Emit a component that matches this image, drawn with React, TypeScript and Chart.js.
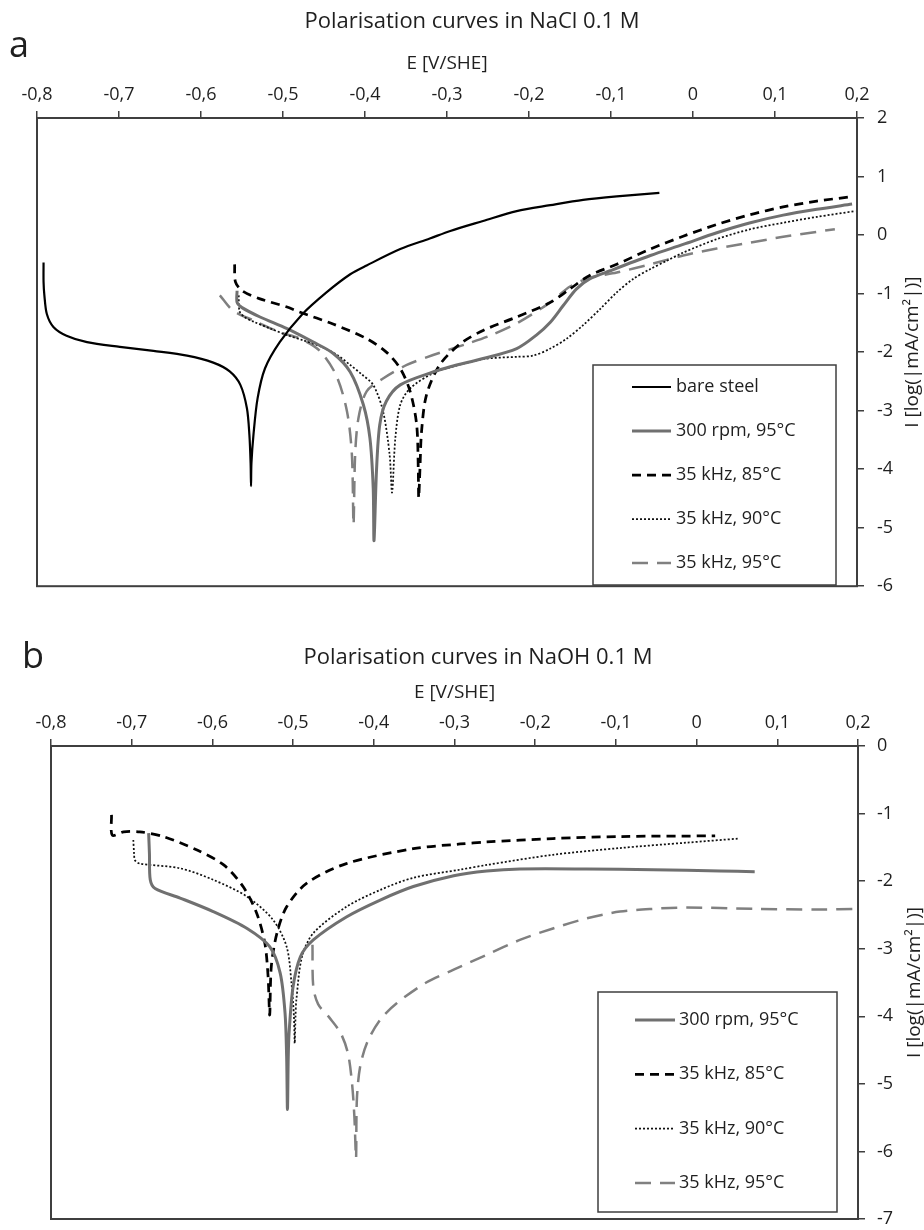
import React, { useEffect, useRef } from 'react';
import { Chart, registerables } from 'chart.js';

Chart.register(...registerables);

const FONT_FAMILY = '"Open Sans", "Liberation Sans", sans-serif';
const TEXT_COLOR = '#1f1f1f';
const AXIS_COLOR = '#3f3f3f';

// ---------------- axis ticks ----------------
const xTickValues = [-0.8, -0.7, -0.6, -0.5, -0.4, -0.3, -0.2, -0.1, 0, 0.1, 0.2];
const xTickLabels = ['-0,8', '-0,7', '-0,6', '-0,5', '-0,4', '-0,3', '-0,2', '-0,1', '0', '0,1', '0,2'];
const yTickValuesNaCl = [-6, -5, -4, -3, -2, -1, 0, 1, 2];
const yTickLabelsNaCl = ['-6', '-5', '-4', '-3', '-2', '-1', '0', '1', '2'];
const yTickValuesNaOH = [-7, -6, -5, -4, -3, -2, -1, 0];
const yTickLabelsNaOH = ['-7', '-6', '-5', '-4', '-3', '-2', '-1', '0'];

// ---------------- series names ----------------
const LABEL_BARE = 'bare steel';
const LABEL_RPM = '300 rpm, 95°C';
const LABEL_K85 = '35 kHz, 85°C';
const LABEL_K90 = '35 kHz, 90°C';
const LABEL_K95 = '35 kHz, 95°C';

// ---------------- NaCl 0.1 M  [E (V/SHE), log I] ----------------
const naclBare: [number, number][] = [
  [-0.792, -0.47], [-0.792, -0.8], [-0.791, -1.03], [-0.788, -1.35], [-0.78, -1.57], [-0.764, -1.72],
  [-0.739, -1.83], [-0.699, -1.91], [-0.658, -1.98], [-0.617, -2.06], [-0.585, -2.18], [-0.565, -2.33],
  [-0.552, -2.56], [-0.544, -2.96], [-0.541, -3.41], [-0.5395, -3.9], [-0.539, -4.29], [-0.5385, -3.9],
  [-0.536, -3.41], [-0.531, -2.79], [-0.522, -2.28], [-0.504, -1.83], [-0.477, -1.36], [-0.447, -0.98],
  [-0.418, -0.67], [-0.398, -0.52], [-0.357, -0.24], [-0.321, -0.06], [-0.296, 0.07], [-0.256, 0.24],
  [-0.215, 0.41], [-0.174, 0.51], [-0.134, 0.6], [-0.093, 0.66], [-0.041, 0.72],
];
const naclRpm95: [number, number][] = [
  [-0.556, -0.95], [-0.556, -1.15], [-0.55, -1.24], [-0.528, -1.4], [-0.495, -1.6], [-0.463, -1.83],
  [-0.439, -2.02], [-0.418, -2.34], [-0.402, -2.9], [-0.394, -3.47], [-0.39, -4.32], [-0.389, -5.22],
  [-0.386, -4.03], [-0.382, -3.24], [-0.374, -2.84], [-0.357, -2.56], [-0.317, -2.34], [-0.296, -2.25],
  [-0.256, -2.11], [-0.215, -1.94], [-0.191, -1.71], [-0.174, -1.49], [-0.158, -1.2], [-0.142, -0.92],
  [-0.126, -0.75], [-0.101, -0.61], [-0.052, -0.35], [-0.012, -0.16], [0.029, 0.04], [0.07, 0.21],
  [0.11, 0.34], [0.151, 0.44], [0.194, 0.53],
];
const naclK85: [number, number][] = [
  [-0.559, -0.5], [-0.558, -0.8], [-0.55, -0.95], [-0.528, -1.09], [-0.495, -1.23], [-0.479, -1.32],
  [-0.439, -1.52], [-0.398, -1.77], [-0.374, -2.0], [-0.357, -2.28], [-0.345, -2.67], [-0.337, -3.24],
  [-0.335, -4.03], [-0.3345, -4.49], [-0.333, -4.0], [-0.331, -3.35], [-0.325, -2.73], [-0.309, -2.22],
  [-0.284, -1.86], [-0.256, -1.63], [-0.215, -1.4], [-0.174, -1.15], [-0.15, -0.92], [-0.126, -0.69],
  [-0.093, -0.5], [-0.052, -0.24], [-0.012, -0.02], [0.029, 0.18], [0.07, 0.35], [0.11, 0.48],
  [0.151, 0.58], [0.191, 0.65],
];
const naclK90: [number, number][] = [
  [-0.554, -1.03], [-0.553, -1.3], [-0.547, -1.4], [-0.536, -1.48], [-0.515, -1.6], [-0.495, -1.71],
  [-0.475, -1.8], [-0.455, -1.9], [-0.435, -2.04], [-0.418, -2.22], [-0.404, -2.38], [-0.39, -2.56],
  [-0.378, -3.01], [-0.37, -3.75], [-0.367, -4.4], [-0.363, -3.47], [-0.357, -2.9], [-0.345, -2.62],
  [-0.317, -2.36], [-0.296, -2.26], [-0.256, -2.12], [-0.215, -2.08], [-0.195, -2.06], [-0.174, -1.94],
  [-0.154, -1.77], [-0.134, -1.54], [-0.113, -1.26], [-0.093, -0.98], [-0.073, -0.75], [-0.052, -0.58],
  [-0.032, -0.44], [-0.012, -0.3], [0.029, -0.07], [0.07, 0.1], [0.11, 0.21], [0.151, 0.31], [0.198, 0.41],
];
const naclK95: [number, number][] = [
  [-0.577, -1.03], [-0.561, -1.29], [-0.536, -1.46], [-0.504, -1.66], [-0.479, -1.77], [-0.455, -1.98],
  [-0.435, -2.4], [-0.422, -3.01], [-0.416, -3.75], [-0.414, -4.95], [-0.412, -3.75], [-0.408, -3.13],
  [-0.398, -2.67], [-0.378, -2.45], [-0.349, -2.22], [-0.317, -2.05], [-0.276, -1.86], [-0.246, -1.71],
  [-0.215, -1.51], [-0.174, -1.15], [-0.15, -0.88], [-0.126, -0.73], [-0.093, -0.64], [-0.052, -0.5],
  [-0.012, -0.35], [0.029, -0.23], [0.07, -0.13], [0.11, -0.03], [0.173, 0.1],
];

// ---------------- NaOH 0.1 M  [E (V/SHE), log I] ----------------
const naohRpm95: [number, number][] = [
  [-0.679, -1.29], [-0.678, -1.6], [-0.677, -1.98], [-0.671, -2.11], [-0.64, -2.25], [-0.599, -2.45],
  [-0.557, -2.7], [-0.529, -2.97], [-0.516, -3.36], [-0.51, -3.95], [-0.508, -4.6], [-0.507, -5.38],
  [-0.506, -4.6], [-0.505, -4.25], [-0.5, -3.56], [-0.491, -3.12], [-0.475, -2.87], [-0.434, -2.53],
  [-0.392, -2.28], [-0.351, -2.08], [-0.301, -1.92], [-0.26, -1.85], [-0.219, -1.82], [-0.136, -1.82],
  [-0.054, -1.83], [0.029, -1.85], [0.072, -1.86],
];
const naohK85: [number, number][] = [
  [-0.725, -1.02], [-0.724, -1.32], [-0.71, -1.27], [-0.69, -1.27], [-0.661, -1.34], [-0.619, -1.54],
  [-0.586, -1.76], [-0.562, -2.08], [-0.545, -2.48], [-0.535, -2.92], [-0.531, -3.41], [-0.529, -3.98],
  [-0.527, -3.26], [-0.52, -2.77], [-0.508, -2.38], [-0.483, -2.03], [-0.434, -1.74], [-0.351, -1.52],
  [-0.293, -1.45], [-0.26, -1.42], [-0.178, -1.37], [-0.095, -1.34], [0.023, -1.33],
];
const naohK90: [number, number][] = [
  [-0.698, -1.39], [-0.697, -1.6], [-0.696, -1.69], [-0.69, -1.74], [-0.64, -1.81], [-0.599, -1.98],
  [-0.557, -2.23], [-0.525, -2.57], [-0.508, -2.97], [-0.502, -3.51], [-0.499, -4.0], [-0.498, -4.4],
  [-0.497, -4.0], [-0.496, -3.76], [-0.489, -3.12], [-0.475, -2.77], [-0.434, -2.38], [-0.392, -2.13],
  [-0.351, -1.95], [-0.293, -1.83], [-0.26, -1.76], [-0.178, -1.61], [-0.095, -1.51], [-0.012, -1.43],
  [0.052, -1.37],
];
const naohK95: [number, number][] = [
  [-0.476, -2.94], [-0.475, -3.56], [-0.469, -3.82], [-0.455, -4.02], [-0.441, -4.25], [-0.432, -4.55],
  [-0.427, -4.99], [-0.424, -5.5], [-0.422, -6.1], [-0.421, -5.24], [-0.417, -4.75], [-0.408, -4.38],
  [-0.392, -4.05], [-0.372, -3.81], [-0.335, -3.5], [-0.301, -3.31], [-0.26, -3.09], [-0.219, -2.87],
  [-0.178, -2.7], [-0.136, -2.55], [-0.095, -2.45], [-0.054, -2.41], [-0.012, -2.39], [0.07, -2.41],
  [0.153, -2.42], [0.198, -2.41],
];

// ---------------- styles ----------------
const STYLES: Record<string, { color: string; width: number; dash: number[] }> = {
  [LABEL_BARE]: { color: '#000000', width: 2.2, dash: [] },
  [LABEL_RPM]: { color: '#707070', width: 3, dash: [] },
  [LABEL_K85]: { color: '#000000', width: 2.75, dash: [9, 6] },
  [LABEL_K90]: { color: '#111111', width: 1.75, dash: [2, 2] },
  [LABEL_K95]: { color: '#808080', width: 2.5, dash: [16, 9] },
};

function makeDatasets(list: { label: string; pts: [number, number][] }[]) {
  return list.map(({ label, pts }) => {
    const s = STYLES[label];
    return {
      label,
      data: pts.map(([x, y]) => ({ x, y })),
      showLine: true,
      borderColor: s.color,
      backgroundColor: s.color,
      borderWidth: s.width,
      borderDash: s.dash,
      pointRadius: 0,
      pointHoverRadius: 0,
      tension: 0.3,
      fill: false,
    };
  });
}

const decoPlugin = {
  id: 'deco',
  afterDraw(chart: any, _args: any, o: any) {
    const { ctx, chartArea: ca } = chart;
    ctx.save();
    ctx.setLineDash([]);
    ctx.strokeStyle = AXIS_COLOR;
    ctx.lineWidth = 2;
    ctx.strokeRect(ca.left, ca.top, ca.right - ca.left, ca.bottom - ca.top);

    ctx.fillStyle = TEXT_COLOR;
    ctx.textAlign = 'center';
    ctx.textBaseline = 'middle';
    ctx.font = `22px ${FONT_FAMILY}`;
    ctx.fillText(o.title, o.titleX, o.titleY);
    ctx.font = `19px ${FONT_FAMILY}`;
    ctx.fillText(o.xTitle, (ca.left + ca.right) / 2, o.xTitleY);

    ctx.textAlign = 'left';
    ctx.textBaseline = 'alphabetic';
    ctx.font = `36px ${FONT_FAMILY}`;
    ctx.fillText(o.letter, o.letterX, o.letterY);

    ctx.save();
    ctx.translate(o.yTitleX, (ca.top + ca.bottom) / 2);
    ctx.rotate(-Math.PI / 2);
    ctx.textAlign = 'center';
    ctx.textBaseline = 'middle';
    ctx.font = `19px ${FONT_FAMILY}`;
    ctx.fillText(o.yTitle, 0, 0);
    ctx.restore();

    const L = o.legend;
    ctx.fillStyle = '#ffffff';
    ctx.fillRect(L.x, L.y, L.w, L.h);
    ctx.strokeStyle = AXIS_COLOR;
    ctx.lineWidth = 1.5;
    ctx.strokeRect(L.x, L.y, L.w, L.h);
    chart.data.datasets.forEach((ds: any, i: number) => {
      const y = L.firstY + i * L.step;
      ctx.beginPath();
      ctx.setLineDash(ds.borderDash || []);
      ctx.lineWidth = ds.borderWidth;
      ctx.strokeStyle = ds.borderColor;
      ctx.moveTo(L.lineX1, y);
      ctx.lineTo(L.lineX2, y);
      ctx.stroke();
      ctx.setLineDash([]);
      ctx.fillStyle = TEXT_COLOR;
      ctx.font = `18px ${FONT_FAMILY}`;
      ctx.textAlign = 'left';
      ctx.textBaseline = 'middle';
      ctx.fillText(ds.label, L.textX, y);
    });
    ctx.restore();
  },
};

function lookup(values: number[], labels: string[], v: number) {
  const i = values.findIndex((t) => Math.abs(t - v) < 1e-9);
  return i >= 0 ? labels[i] : '';
}

type Props = {
  width: number;
  height: number;
  datasets: any[];
  yValues: number[];
  yLabels: string[];
  area: { left: number; top: number; right: number; bottom: number };
  yPad: number;
  deco: any;
};

function PolarisationChart({ width, height, datasets, yValues, yLabels, area, yPad, deco }: Props) {
  const ref = useRef<HTMLCanvasElement>(null);
  useEffect(() => {
    let chart: Chart | null = null;
    let cancelled = false;
    const xAxisHeight = area.top;
    const yAxisWidth = width - area.right;
    const build = () => {
      if (cancelled || !ref.current) return;
      chart = new Chart(ref.current, {
        type: 'scatter',
        data: { datasets },
        options: {
          responsive: false,
          animation: false,
          devicePixelRatio: 1,
          layout: { padding: { left: area.left, top: 0, right: 0, bottom: height - area.bottom } },
          events: [],
          plugins: {
            legend: { display: false },
            tooltip: { enabled: false },
            deco,
          } as any,
          scales: {
            x: {
              type: 'linear',
              position: 'top',
              min: xTickValues[0],
              max: xTickValues[xTickValues.length - 1],
              afterBuildTicks: (axis: any) => {
                axis.ticks = xTickValues.map((v) => ({ value: v }));
              },
              afterFit: (axis: any) => {
                axis.height = xAxisHeight;
              },
              grid: { drawOnChartArea: false, drawTicks: true, tickLength: 7, color: AXIS_COLOR, lineWidth: 1.5 },
              border: { display: false },
              ticks: {
                autoSkip: false,
                maxRotation: 0,
                padding: 5,
                color: TEXT_COLOR,
                font: { family: FONT_FAMILY, size: 18 },
                callback: (v: any) => lookup(xTickValues, xTickLabels, Number(v)),
              },
            },
            y: {
              type: 'linear',
              position: 'right',
              min: yValues[0],
              max: yValues[yValues.length - 1],
              afterBuildTicks: (axis: any) => {
                axis.ticks = yValues.map((v) => ({ value: v }));
              },
              afterFit: (axis: any) => {
                axis.width = yAxisWidth;
              },
              grid: { drawOnChartArea: false, drawTicks: true, tickLength: 7, color: AXIS_COLOR, lineWidth: 1.5 },
              border: { display: false },
              ticks: {
                autoSkip: false,
                padding: yPad,
                color: TEXT_COLOR,
                font: { family: FONT_FAMILY, size: 18 },
                callback: (v: any) => lookup(yValues, yLabels, Number(v)),
              },
            },
          },
        },
        plugins: [decoPlugin as any],
      });
    };
    const fonts = ['18px "Open Sans"', '22px "Open Sans"', '36px "Open Sans"'];
    if ((document as any).fonts && (document as any).fonts.load) {
      Promise.all(fonts.map((f) => (document as any).fonts.load(f))).then(build, build);
    } else {
      build();
    }
    return () => {
      cancelled = true;
      if (chart) chart.destroy();
    };
  }, []);
  return <canvas ref={ref} width={width} height={height} style={{ display: 'block', width, height }} />;
}

const naclDatasets = makeDatasets([
  { label: LABEL_BARE, pts: naclBare },
  { label: LABEL_RPM, pts: naclRpm95 },
  { label: LABEL_K85, pts: naclK85 },
  { label: LABEL_K90, pts: naclK90 },
  { label: LABEL_K95, pts: naclK95 },
]);

const naohDatasets = makeDatasets([
  { label: LABEL_RPM, pts: naohRpm95 },
  { label: LABEL_K85, pts: naohK85 },
  { label: LABEL_K90, pts: naohK90 },
  { label: LABEL_K95, pts: naohK95 },
]);

const Y_TITLE = 'I [log(|mA/cm²|)]';
const X_TITLE = 'E [V/SHE]';

export default function App() {
  return (
    <div
      style={{
        position: 'absolute',
        left: 0,
        top: 0,
        width: 924,
        height: 1230,
        overflow: 'hidden',
        background: '#ffffff',
      }}
    >
      <div style={{ position: 'absolute', left: 0, top: 0 }}>
        <PolarisationChart
          width={924}
          height={610}
          datasets={naclDatasets}
          yValues={yTickValuesNaCl}
          yLabels={yTickLabelsNaCl}
          area={{ left: 37, top: 118, right: 857, bottom: 590 }}
          yPad={13}
          deco={{
            title: 'Polarisation curves in NaCl 0.1 M',
            titleX: 472,
            titleY: 22,
            xTitle: X_TITLE,
            xTitleY: 64,
            letter: 'a',
            letterX: 9,
            letterY: 57,
            yTitle: Y_TITLE,
            yTitleX: 913,
            legend: { x: 593, y: 365, w: 243, h: 220, firstY: 387, step: 44, lineX1: 632, lineX2: 671, textX: 676 },
          }}
        />
      </div>
      <div style={{ position: 'absolute', left: 0, top: 610 }}>
        <PolarisationChart
          width={924}
          height={640}
          datasets={naohDatasets}
          yValues={yTickValuesNaOH}
          yLabels={yTickLabelsNaOH}
          area={{ left: 51, top: 136, right: 858, bottom: 609 }}
          yPad={12}
          deco={{
            title: 'Polarisation curves in NaOH 0.1 M',
            titleX: 478,
            titleY: 48,
            xTitle: X_TITLE,
            xTitleY: 83,
            letter: 'b',
            letterX: 22,
            letterY: 58,
            yTitle: Y_TITLE,
            yTitleX: 915,
            legend: { x: 598, y: 382, w: 239, h: 220, firstY: 410, step: 54.3, lineX1: 635, lineX2: 675, textX: 679 },
          }}
        />
      </div>
    </div>
  );
}
